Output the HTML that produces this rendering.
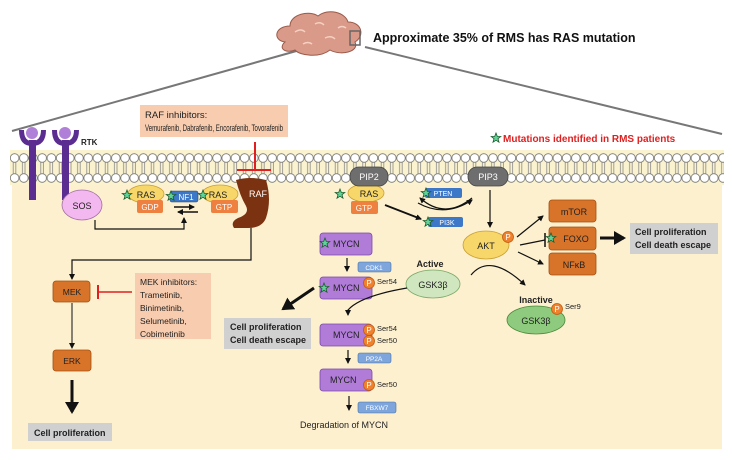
<!DOCTYPE html>
<html><head><meta charset="utf-8"><style>
html,body{margin:0;padding:0;background:#fff;}
svg{display:block;font-family:"Liberation Sans",sans-serif;}
.b{font-weight:bold}
</style></head><body>
<svg width="732" height="460" viewBox="0 0 732 460" xmlns="http://www.w3.org/2000/svg">
<defs>
<pattern id="mem" x="10" y="150" width="9.2" height="35" patternUnits="userSpaceOnUse">
<line x1="3.2" y1="8" x2="3.2" y2="26" stroke="#888" stroke-width="0.8"/>
<line x1="5.8" y1="8" x2="5.8" y2="26" stroke="#888" stroke-width="0.8"/>
<circle cx="4.6" cy="8" r="4.3" fill="#fff" stroke="#777" stroke-width="0.8"/>
<circle cx="4.6" cy="28" r="4.3" fill="#fff" stroke="#777" stroke-width="0.8"/>
</pattern>
<marker id="ar" markerWidth="6" markerHeight="6" refX="5" refY="3" orient="auto" markerUnits="userSpaceOnUse"><path d="M0,0 L6,3 L0,6 z" fill="#111"/></marker>
<marker id="arb" markerWidth="14" markerHeight="14" refX="10" refY="7" orient="auto" markerUnits="userSpaceOnUse"><path d="M0,0 L12,7 L0,14 z" fill="#111"/></marker>
<g id="star"><polygon points="0,-5 1.3,-1.6 4.8,-1.5 2,0.7 3,4.2 0,2.2 -3,4.2 -2,0.7 -4.8,-1.5 -1.3,-1.6" fill="#5fd39a" stroke="#1a5a2a" stroke-width="0.8"/></g>
<g id="pp"><circle r="5.5" fill="#f0822e" stroke="#c05a10" stroke-width="0.8"/><text x="0" y="3" font-size="8" fill="#fff" text-anchor="middle">P</text></g>
</defs>
<line x1="12" y1="131" x2="300" y2="50" stroke="#777" stroke-width="2"/>
<line x1="365" y1="47" x2="722" y2="134" stroke="#777" stroke-width="2"/>
<path d="M285,42 C272,40 275,26 290,26 C290,14 310,10 318,16 C328,8 345,12 348,22 C362,22 365,36 355,42 C360,52 340,56 330,50 C320,58 300,56 295,50 C285,54 278,48 285,42 z" fill="#d99a8a" stroke="#9a5a4a" stroke-width="1"/>
<path d="M295,32 q6,-4 10,0 M315,24 q5,-3 9,1 M325,38 q6,-3 10,1 M303,44 q5,-3 9,0 M338,28 q4,-3 8,0" stroke="#f6d0c0" stroke-width="1.5" fill="none"/>
<rect x="350" y="31" width="10" height="14" fill="none" stroke="#666" stroke-width="1.5"/>
<text x="373" y="42" font-size="12.5" class="b" fill="#111">Approximate 35% of RMS has RAS mutation</text>
<rect x="12" y="160" width="710" height="289" fill="#fdf0cf"/>
<rect x="10" y="150" width="714" height="35" fill="#fbf3cf"/>
<rect x="10" y="150" width="714" height="35" fill="url(#mem)"/>
<rect x="140" y="105" width="148" height="32" fill="#f8ccae"/>
<text x="145" y="118" font-size="9.5" fill="#222">RAF inhibitors:</text>
<text x="145" y="131" font-size="9.5" fill="#222" textLength="138" lengthAdjust="spacingAndGlyphs">Vemurafenib, Dabrafenib, Encorafenib, Tovorafenib</text>
<line x1="255" y1="142" x2="255" y2="170" stroke="#e02020" stroke-width="2"/>
<line x1="237" y1="170" x2="271" y2="170" stroke="#e02020" stroke-width="2"/>
<use href="#star" x="496" y="138"/>
<text x="503" y="142" font-size="10" class="b" fill="#e02020">Mutations identified in RMS patients</text>
<g fill="#5c2d91">
<rect x="29" y="140" width="7" height="60"/>
<rect x="62" y="140" width="7" height="60"/>
<path d="M19,130 Q19,146 32,146 Q46,146 46,130 L41,130 Q41,141 32,141 Q24,141 24,130z"/>
<path d="M52,130 Q52,146 65,146 Q79,146 79,130 L74,130 Q74,141 65,141 Q57,141 57,130z"/>
</g>
<circle cx="32" cy="133" r="6" fill="#b080d8"/><circle cx="65" cy="133" r="6" fill="#b080d8"/>
<text x="81" y="145" font-size="8" class="b" fill="#222">RTK</text>
<ellipse cx="82" cy="205" rx="20" ry="15" fill="#f3b8ef" stroke="#a070a0" stroke-width="0.8"/>
<text x="82" y="209" font-size="9" fill="#222" text-anchor="middle">SOS</text>
<ellipse cx="146" cy="194" rx="18" ry="9" fill="#f8d76a" stroke="#c9a030" stroke-width="0.8"/>
<text x="146" y="198" font-size="9" fill="#222" text-anchor="middle">RAS</text>
<rect x="137" y="200" width="26" height="13" rx="2" fill="#ee8040"/>
<text x="150" y="210" font-size="8" fill="#fff" text-anchor="middle">GDP</text>
<use href="#star" x="127" y="195"/>
<rect x="170" y="191" width="28" height="11" rx="2" fill="#3d78c8" stroke="#244a80" stroke-width="0.6"/>
<text x="186" y="200" font-size="8" fill="#fff" text-anchor="middle">NF1</text>
<use href="#star" x="171" y="196"/>
<line x1="174" y1="207" x2="194" y2="207" stroke="#111" stroke-width="1.5" marker-end="url(#ar)"/>
<line x1="198" y1="212" x2="178" y2="212" stroke="#111" stroke-width="1.5" marker-end="url(#ar)"/>
<ellipse cx="220" cy="194" rx="18" ry="9" fill="#f8d76a" stroke="#c9a030" stroke-width="0.8"/>
<text x="218" y="198" font-size="9" fill="#222" text-anchor="middle">RAS</text>
<rect x="211" y="200" width="27" height="13" rx="2" fill="#ee8040"/>
<text x="224" y="210" font-size="8" fill="#fff" text-anchor="middle">GTP</text>
<use href="#star" x="203" y="195"/>
<path d="M236,180 Q250,176 266,180 Q272,200 266,218 Q262,228 248,228 L234,228 Q230,222 238,218 Q250,214 246,206 Q240,196 236,180z" fill="#7a3210"/>
<text x="258" y="197" font-size="9" fill="#fff" text-anchor="middle">RAF</text>
<polyline points="95,220 95,229 184,229 184,218" fill="none" stroke="#111" stroke-width="1.2" marker-end="url(#ar)"/>
<polyline points="251,228 251,260 72,260 72,279" fill="none" stroke="#111" stroke-width="1.2" marker-end="url(#ar)"/>
<rect x="53" y="281" width="37" height="21" rx="3" fill="#d8742a" stroke="#a24f10" stroke-width="0.8"/>
<text x="72" y="295" font-size="8.5" fill="#222" text-anchor="middle">MEK</text>
<line x1="72" y1="303" x2="72" y2="348" stroke="#111" stroke-width="1" marker-end="url(#ar)"/>
<rect x="53" y="350" width="38" height="21" rx="3" fill="#d8742a" stroke="#a24f10" stroke-width="0.8"/>
<text x="72" y="364" font-size="8.5" fill="#222" text-anchor="middle">ERK</text>
<line x1="72" y1="380" x2="72" y2="412" stroke="#111" stroke-width="3" marker-end="url(#arb)"/>
<rect x="28" y="423" width="84" height="18" fill="#d0d0d0"/>
<text x="34" y="436" font-size="9" class="b" fill="#222">Cell proliferation</text>
<rect x="135" y="273" width="76" height="66" fill="#f8ccae"/>
<text x="140" y="285" font-size="8.5" fill="#222">MEK inhibitors:</text>
<text x="140" y="298" font-size="8.5" fill="#222">Trametinib,</text>
<text x="140" y="311" font-size="8.5" fill="#222">Binimetinib,</text>
<text x="140" y="324" font-size="8.5" fill="#222">Selumetinib,</text>
<text x="140" y="337" font-size="8.5" fill="#222">Cobimetinib</text>
<line x1="132" y1="292" x2="98" y2="292" stroke="#e02020" stroke-width="1.5"/>
<line x1="98" y1="285" x2="98" y2="299" stroke="#e02020" stroke-width="2"/>
<ellipse cx="366" cy="193" rx="18" ry="9" fill="#f8d76a" stroke="#c9a030" stroke-width="0.8"/>
<text x="369" y="197" font-size="9" fill="#222" text-anchor="middle">RAS</text>
<rect x="351" y="201" width="27" height="13" rx="2" fill="#ee8040"/>
<text x="364" y="211" font-size="8" fill="#fff" text-anchor="middle">GTP</text>
<use href="#star" x="340" y="194"/>
<rect x="350" y="167" width="38" height="19" rx="9" fill="#6e6e6e" stroke="#444" stroke-width="0.8"/>
<text x="369" y="180" font-size="9" fill="#fff" text-anchor="middle">PIP2</text>
<rect x="468" y="167" width="40" height="19" rx="9" fill="#6e6e6e" stroke="#444" stroke-width="0.8"/>
<text x="488" y="180" font-size="9" fill="#fff" text-anchor="middle">PIP3</text>
<rect x="425" y="188" width="37" height="10" rx="2" fill="#3d78c8"/>
<text x="443" y="196" font-size="7" fill="#fff" text-anchor="middle">PTEN</text>
<use href="#star" x="426" y="193"/>
<path d="M472,198 Q445,220 420,198" fill="none" stroke="#111" stroke-width="1.2" marker-end="url(#ar)"/>
<path d="M418,203 Q445,218 472,200" fill="none" stroke="#111" stroke-width="1.2" marker-end="url(#ar)"/>
<rect x="428" y="217" width="35" height="10" rx="2" fill="#3d78c8"/>
<text x="447" y="225" font-size="7" fill="#fff" text-anchor="middle">PI3K</text>
<use href="#star" x="428" y="222"/>
<line x1="385" y1="205" x2="421" y2="219" stroke="#111" stroke-width="1.8" marker-end="url(#ar)"/>
<line x1="490" y1="190" x2="490" y2="227" stroke="#111" stroke-width="1.2" marker-end="url(#ar)"/>
<ellipse cx="486" cy="245" rx="23" ry="14" fill="#f8d76a" stroke="#c9a030" stroke-width="0.8"/>
<text x="486" y="249" font-size="9" fill="#222" text-anchor="middle">AKT</text>
<use href="#pp" x="508" y="237"/>
<line x1="517" y1="237" x2="543" y2="216" stroke="#111" stroke-width="1.2" marker-end="url(#ar)"/>
<line x1="520" y1="245" x2="545" y2="240" stroke="#111" stroke-width="1.2"/>
<line x1="545" y1="233" x2="545" y2="247" stroke="#111" stroke-width="1.5"/>
<line x1="518" y1="252" x2="543" y2="264" stroke="#111" stroke-width="1.2" marker-end="url(#ar)"/>
<g font-size="9" fill="#222" text-anchor="middle">
<rect x="549" y="200" width="47" height="22" rx="3" fill="#d8742a" stroke="#a24f10" stroke-width="0.8"/><text x="574" y="215">mTOR</text>
<rect x="549" y="227" width="47" height="23" rx="3" fill="#d8742a" stroke="#a24f10" stroke-width="0.8"/><text x="576" y="242">FOXO</text>
<rect x="549" y="253" width="47" height="22" rx="3" fill="#d8742a" stroke="#a24f10" stroke-width="0.8"/><text x="574" y="268">NFκB</text>
</g>
<use href="#star" x="551" y="238"/>
<line x1="600" y1="238" x2="624" y2="238" stroke="#111" stroke-width="3" marker-end="url(#arb)"/>
<rect x="630" y="223" width="88" height="31" fill="#d0d0d0"/>
<text x="635" y="235" font-size="9" class="b" fill="#222">Cell proliferation</text>
<text x="635" y="248" font-size="9" class="b" fill="#222">Cell death escape</text>
<g font-size="9" fill="#222">
<rect x="320" y="233" width="52" height="22" rx="3" fill="#b07cd8" stroke="#7a4aa8" stroke-width="0.8"/><text x="333" y="247">MYCN</text>
<rect x="320" y="277" width="52" height="22" rx="3" fill="#b07cd8" stroke="#7a4aa8" stroke-width="0.8"/><text x="333" y="291">MYCN</text>
<rect x="320" y="324" width="52" height="22" rx="3" fill="#b07cd8" stroke="#7a4aa8" stroke-width="0.8"/><text x="333" y="338">MYCN</text>
<rect x="320" y="369" width="52" height="22" rx="3" fill="#b07cd8" stroke="#7a4aa8" stroke-width="0.8"/><text x="330" y="383">MYCN</text>
</g>
<use href="#star" x="325" y="243"/><use href="#star" x="324" y="288"/>
<use href="#pp" x="369" y="283"/><text x="377" y="284" font-size="7.5" fill="#222">Ser54</text>
<use href="#pp" x="369" y="330"/><text x="377" y="331" font-size="7.5" fill="#222">Ser54</text>
<use href="#pp" x="369" y="341"/><text x="377" y="343" font-size="7.5" fill="#222">Ser50</text>
<use href="#pp" x="369" y="385"/><text x="377" y="387" font-size="7.5" fill="#222">Ser50</text>
<line x1="347" y1="258" x2="347" y2="271" stroke="#111" stroke-width="1.2" marker-end="url(#ar)"/>
<line x1="348" y1="350" x2="348" y2="363" stroke="#111" stroke-width="1.2" marker-end="url(#ar)"/>
<line x1="349" y1="396" x2="349" y2="410" stroke="#111" stroke-width="1.2" marker-end="url(#ar)"/>
<g font-size="6.5" fill="#fff" text-anchor="middle">
<rect x="358" y="262" width="33" height="10" rx="2" fill="#7ea6dc" stroke="#4a70a0" stroke-width="0.6"/><text x="374" y="270">CDK1</text>
<rect x="358" y="353" width="33" height="10" rx="2" fill="#7ea6dc" stroke="#4a70a0" stroke-width="0.6"/><text x="374" y="361">PP2A</text>
<rect x="358" y="402" width="38" height="11" rx="2" fill="#7ea6dc" stroke="#4a70a0" stroke-width="0.6"/><text x="377" y="410">FBXW7</text>
</g>
<text x="300" y="428" font-size="9" fill="#222">Degradation of MYCN</text>
<line x1="314" y1="288" x2="283" y2="309" stroke="#111" stroke-width="3" marker-end="url(#arb)"/>
<rect x="224" y="318" width="87" height="31" fill="#d0d0d0"/>
<text x="230" y="330" font-size="9" class="b" fill="#222">Cell proliferation</text>
<text x="230" y="343" font-size="9" class="b" fill="#222">Cell death escape</text>
<text x="430" y="267" font-size="9" class="b" fill="#222" text-anchor="middle">Active</text>
<ellipse cx="433" cy="284" rx="27" ry="14" fill="#cfe6bf" stroke="#7aa868" stroke-width="0.8"/>
<text x="433" y="288" font-size="9" fill="#222" text-anchor="middle">GSK3β</text>
<path d="M407,288 Q360,296 348,310 L348,315" fill="none" stroke="#111" stroke-width="1.2" marker-end="url(#ar)"/>
<path d="M471,275 Q490,252 525,285" fill="none" stroke="#111" stroke-width="1.2" marker-end="url(#ar)"/>
<text x="536" y="303" font-size="9" class="b" fill="#222" text-anchor="middle">Inactive</text>
<ellipse cx="536" cy="320" rx="29" ry="14" fill="#8fcb7e" stroke="#4a8a3a" stroke-width="0.8"/>
<text x="536" y="324" font-size="9" fill="#222" text-anchor="middle">GSK3β</text>
<use href="#pp" x="557" y="309"/><text x="565" y="309" font-size="7.5" fill="#222">Ser9</text>
</svg>
</body></html>
